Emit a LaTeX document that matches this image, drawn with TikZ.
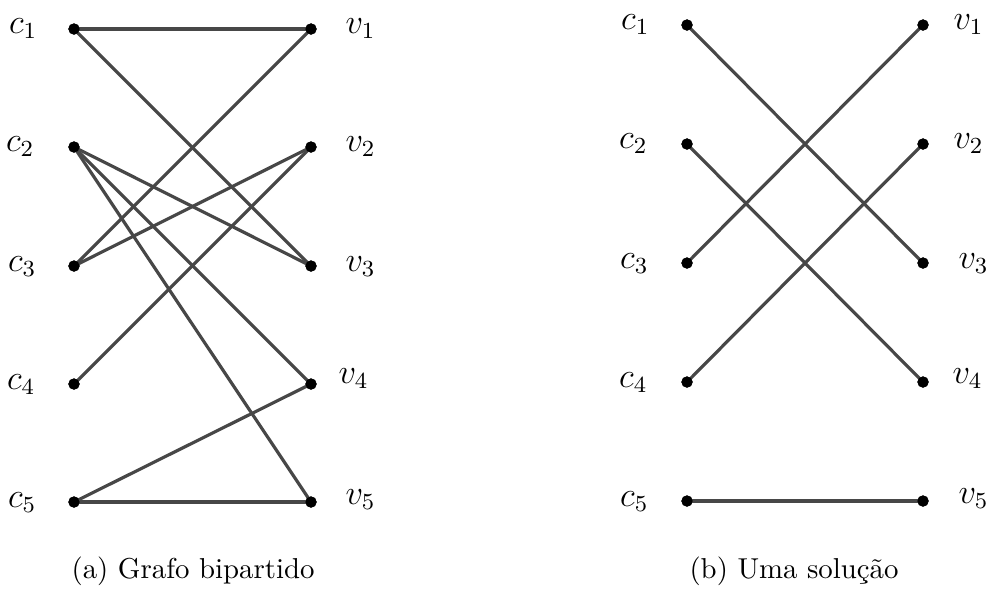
\documentclass[tikz,border=0pt]{standalone}
\begin{document}
\begin{tikzpicture}[x=0.3472pt,y=-0.3472pt,
  vert/.style={circle,fill=black,inner sep=0pt,minimum size=3.9pt},
  edge/.style={draw=black!72,line width=1.1pt},
  lblE/.style={anchor=base east,inner sep=0pt,font=\large},
  lblW/.style={anchor=base west,inner sep=0pt,font=\large},
  captext/.style={anchor=base,inner sep=0pt}]
\useasboundingbox (0,0) rectangle (992,594);
% left graph
\foreach \i/\y in {1/29,2/147,3/266,4/384,5/502}{
  \node[vert] (lc\i) at (74,\y) {};
  \node[vert] (lv\i) at (311,\y) {};
}
\node[lblE] (llc1) at (38,33) {$c_1$};
\node[lblE] (llc2) at (35,151) {$c_2$};
\node[lblE] (llc3) at (37,271) {$c_3$};
\node[lblE] (llc4) at (36,389) {$c_4$};
\node[lblE] (llc5) at (37,507) {$c_5$};
\node[lblW] (llv1) at (345,33) {$v_1$};
\node[lblW] (llv2) at (345,151) {$v_2$};
\node[lblW] (llv3) at (345,271) {$v_3$};
\node[lblW] (llv4) at (338,383) {$v_4$};
\node[lblW] (llv5) at (345,504) {$v_5$};
\foreach \a/\b in {1/1,1/3,2/3,2/4,2/5,3/1,3/2,4/2,5/4,5/5}{
  \draw[edge] (lc\a.center) -- (lv\b.center);
}
\foreach \i in {1,...,5}{
  \node[vert] at (lc\i) {};
  \node[vert] at (lv\i) {};
}
% right graph
\foreach \i/\y in {1/25,2/144,3/263,4/382,5/501}{
  \node[vert] (rc\i) at (687,\y) {};
  \node[vert] (rv\i) at (923,\y) {};
}
\node[lblE] (rlc1) at (650,29) {$c_1$};
\node[lblE] (rlc2) at (648,148) {$c_2$};
\node[lblE] (rlc3) at (649,268) {$c_3$};
\node[lblE] (rlc4) at (648,387) {$c_4$};
\node[lblE] (rlc5) at (649,506) {$c_5$};
\node[lblW] (rlv1) at (953,29) {$v_1$};
\node[lblW] (rlv2) at (953,148) {$v_2$};
\node[lblW] (rlv3) at (958,268) {$v_3$};
\node[lblW] (rlv4) at (952,383) {$v_4$};
\node[lblW] (rlv5) at (958,503) {$v_5$};
\foreach \a/\b in {1/3,2/4,3/1,4/2,5/5}{
  \draw[edge] (rc\a.center) -- (rv\b.center);
}
\foreach \i in {1,...,5}{
  \node[vert] at (rc\i) {};
  \node[vert] at (rv\i) {};
}
\node[captext] (capa) at (193,578) {(a) Grafo bipartido};
\node[captext] (capb) at (794,578) {(b) Uma solução};
\end{tikzpicture}
\end{document}
